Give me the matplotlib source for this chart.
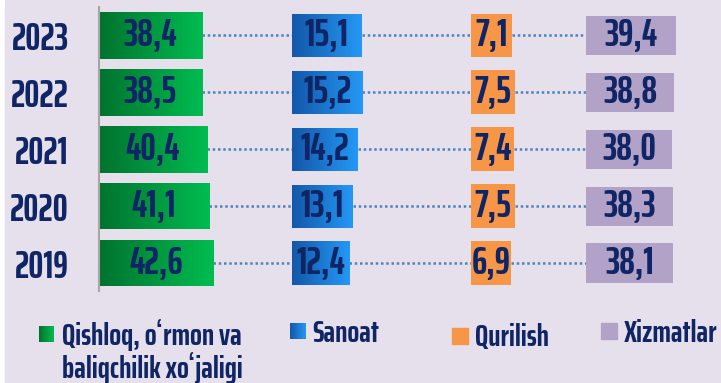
import numpy as np
import matplotlib
matplotlib.use("Agg")
import matplotlib.pyplot as plt
from matplotlib.patches import Rectangle
from matplotlib.colors import LinearSegmentedColormap

# Data: sector shares of GDP by year (%)
years = ["2019", "2020", "2021", "2022", "2023"]
agriculture = [42.6, 41.1, 40.4, 38.5, 38.4]
industry = [12.4, 13.1, 14.2, 15.2, 15.1]
construction = [6.9, 7.5, 7.4, 7.5, 7.1]
services = [38.1, 38.3, 38.0, 38.8, 39.4]
legend_labels = ["Qishloq, o\u02bbrmon va\nbaliqchilik xo\u02bbjaligi", "Sanoat",
                 "Qurilish", "Xizmatlar"]

W, H = 721, 383
BG = "#E6E0EC"
NAVY = "#0F2565"
DOT = "#4F81BD"
FONT = ["Agency FB", "Saira ExtraCondensed", "Saira Extra Condensed",
        "Saira Condensed", "Oswald", "DejaVu Sans"]

plt.rcParams["font.family"] = FONT
plt.rcParams["font.weight"] = "bold"

green_cmap = LinearSegmentedColormap.from_list("g", ["#00732F", "#00BC50"])
blue_cmap = LinearSegmentedColormap.from_list("b", ["#1358AA", "#2498F5"])

fig = plt.figure(figsize=(W / 100, H / 100), dpi=100, facecolor="white")

# background layer in pixel coordinates
bg = fig.add_axes([0, 0, 1, 1], zorder=0)
bg.set_xlim(0, W)
bg.set_ylim(H, 0)
bg.axis("off")
bg.add_patch(Rectangle((5, 0), W - 5, H, color=BG, zorder=0))

# columns: (values, left px, right px, px per unit, colour/cmap, bar height)
columns = [
    (agriculture, 98.5, 292, 2.69, green_cmap, 0.82),
    (industry, 292, 471, 4.62, blue_cmap, 0.76),
    (construction, 471, 586, 5.83, "#F79646", 0.77),
    (services, 586, 721, 2.275, "#B3A2C7", 0.69),
]

top_px, bot_px = 7, 291.5
y = np.arange(len(years))
for i, (vals, x0, x1, scale, col, h) in enumerate(columns):
    ax = fig.add_axes([x0 / W, 1 - bot_px / H, (x1 - x0) / W, (bot_px - top_px) / H],
                      zorder=2)
    ax.patch.set_alpha(0)
    xmax = (x1 - x0) / scale
    if isinstance(col, str):
        ax.barh(y, vals, height=h, color=col, zorder=2)
    else:
        bars = ax.barh(y, vals, height=h, color="none", zorder=2)
        grad = np.linspace(0, 1, 64).reshape(1, -1)
        for b in bars:
            im = ax.imshow(grad, cmap=col, aspect="auto", zorder=2,
                           extent=(b.get_x(), b.get_x() + b.get_width(),
                                   b.get_y(), b.get_y() + b.get_height()))
            im.set_clip_path(b)
    for yi, v in zip(y, vals):
        ax.text(v / 2, yi, f"{v:.1f}".replace(".", ","), ha="center", va="center",
                fontsize=28, color=NAVY, zorder=3)
        # dotted connector to the next column
        if i < len(columns) - 1:
            ax.plot([v, xmax], [yi, yi], color=DOT, lw=1.8, linestyle=(0, (1, 1.1)),
                    zorder=1, clip_on=False)
    ax.set_xlim(0, xmax)
    ax.set_ylim(-0.5, len(years) - 0.5)
    ax.set_xticks([])
    for s in ax.spines.values():
        s.set_visible(False)
    if i == 0:
        ax.spines["left"].set_visible(True)
        ax.spines["left"].set_color("#A6A6A6")
        ax.spines["left"].set_linewidth(1.5)
        ax.set_yticks(y)
        ax.set_yticklabels(years, fontsize=27, color=NAVY)
        ax.tick_params(axis="y", length=0, pad=21.5)
    else:
        ax.set_yticks([])

# legend drawn in pixel coordinates
leg = fig.add_axes([0, 0, 1, 1], zorder=3)
leg.axis("off")
grad = np.linspace(0, 1, 32).reshape(1, -1)
swatches = [(39, 326, 15, 16), (290, 323, 16, 16), (452, 328, 16, 16), (601, 323, 16, 16)]
swatch_colors = [green_cmap, blue_cmap, "#F79646", "#B3A2C7"]
text_pos = [(62, 345), (312, 342), (475, 346), (624, 342)]
for (sx, sy, sw, sh), col, (tx, ty), lab in zip(swatches, swatch_colors, text_pos,
                                               legend_labels):
    if isinstance(col, str):
        leg.add_patch(Rectangle((sx, sy), sw, sh, color=col))
    else:
        leg.imshow(grad, cmap=col, aspect="auto", extent=(sx, sx + sw, sy + sh, sy))
    lines = lab.split("\n")
    for k, line in enumerate(lines):
        leg.text(tx, ty + 33 * k, line, ha="left", va="baseline",
                 fontsize=22.5, color=NAVY)
leg.set_xlim(0, W)
leg.set_ylim(H, 0)

fig.savefig("out.png", dpi=100, facecolor="white")
